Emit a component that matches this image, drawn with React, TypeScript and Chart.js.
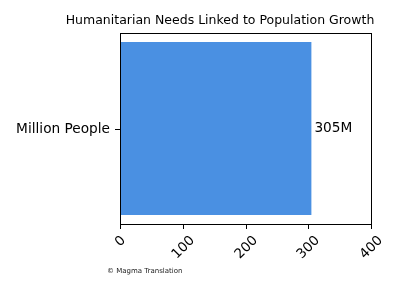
import React, { useEffect, useRef } from "react";
import { Chart, registerables } from "chart.js";

Chart.register(...registerables);

const categories = ["Million People"];
const values = [305];
const valueLabels = ["305M"];
const xTicks = [0, 100, 200, 300, 400];
const titleText = "Humanitarian Needs Linked to Population Growth";
const footerText = "© Magma Translation";

const FONT = "'DejaVu Sans', sans-serif";

const overlay = {
  id: "overlay",
  afterDraw(chart: any) {
    const ctx = chart.ctx as CanvasRenderingContext2D;
    const a = chart.chartArea;
    const xs = chart.scales.x;
    const ys = chart.scales.y;
    ctx.save();
    // frame
    ctx.strokeStyle = "#000";
    ctx.lineWidth = 1;
    const L = Math.round(a.left), T = Math.round(a.top), R = Math.round(a.right), B = Math.round(a.bottom);
    ctx.strokeRect(L + 0.5, T + 0.5, R - L, B - T);
    // x ticks
    ctx.fillStyle = "#000";
    ctx.font = `13.5px ${FONT}`;
    xTicks.forEach((t) => {
      const px = Math.round(xs.getPixelForValue(t)) + 0.5;
      ctx.beginPath();
      ctx.moveTo(px, B);
      ctx.lineTo(px, B + 5);
      ctx.stroke();
      const label = String(t);
      const w = ctx.measureText(label).width;
      const h = 10;
      const bh = (w + h) * Math.SQRT1_2;
      ctx.save();
      ctx.translate(px, B + 5 + 6 + bh / 2);
      ctx.rotate(-Math.PI / 4);
      ctx.textAlign = "center";
      ctx.textBaseline = "middle";
      ctx.fillText(label, 0, 0);
      ctx.restore();
    });
    // y ticks & labels
    ctx.font = `13.7px ${FONT}`;
    categories.forEach((c, i) => {
      const py = Math.round(ys.getPixelForValue(i)) + 0.5;
      ctx.beginPath();
      ctx.moveTo(L - 5, py);
      ctx.lineTo(L, py);
      ctx.stroke();
      ctx.textAlign = "right";
      ctx.textBaseline = "middle";
      ctx.fillText(c, L - 10, py);
    });
    // value labels
    const meta = chart.getDatasetMeta(0);
    meta.data.forEach((bar: any, i: number) => {
      ctx.textAlign = "left";
      ctx.textBaseline = "middle";
      ctx.fillText(valueLabels[i], bar.x + 3, bar.y);
    });
    // title
    ctx.font = `12.5px ${FONT}`;
    ctx.textAlign = "center";
    ctx.textBaseline = "alphabetic";
    ctx.fillText(titleText, 220, 24);
    // footer
    ctx.font = `7px ${FONT}`;
    ctx.fillStyle = "#222";
    ctx.textAlign = "left";
    ctx.textBaseline = "middle";
    ctx.fillText(footerText, 107, 271);
    ctx.restore();
  },
};

export default function App() {
  const ref = useRef<HTMLCanvasElement>(null);
  useEffect(() => {
    if (!ref.current) return;
    const chart = new Chart(ref.current, {
      type: "bar",
      data: {
        labels: categories,
        datasets: [
          {
            data: values,
            backgroundColor: "#4a90e2",
            borderWidth: 0,
            barPercentage: 0.906,
            categoryPercentage: 1,
          },
        ],
      },
      options: {
        indexAxis: "y",
        animation: false,
        responsive: false,
        maintainAspectRatio: false,
        layout: { padding: { left: 0, top: 33, right: 29, bottom: 0 } },
        plugins: { legend: { display: false }, tooltip: { enabled: false }, title: { display: false } },
        scales: {
          x: {
            min: 0,
            max: 400,
            ticks: { display: false, stepSize: 100 },
            grid: { display: false },
            border: { display: false },
            afterFit: (s: any) => {
              s.height = 76;
            },
          },
          y: {
            ticks: { display: false },
            grid: { display: false },
            border: { display: false },
            afterFit: (s: any) => {
              s.width = 120;
            },
          },
        },
      },
      plugins: [overlay],
    });
    return () => chart.destroy();
  }, []);
  return (
    <div style={{ position: "fixed", left: 0, top: 0, width: 400, height: 300, background: "#fff" }}>
      <canvas ref={ref} width={400} height={300} style={{ width: 400, height: 300 }} />
    </div>
  );
}
